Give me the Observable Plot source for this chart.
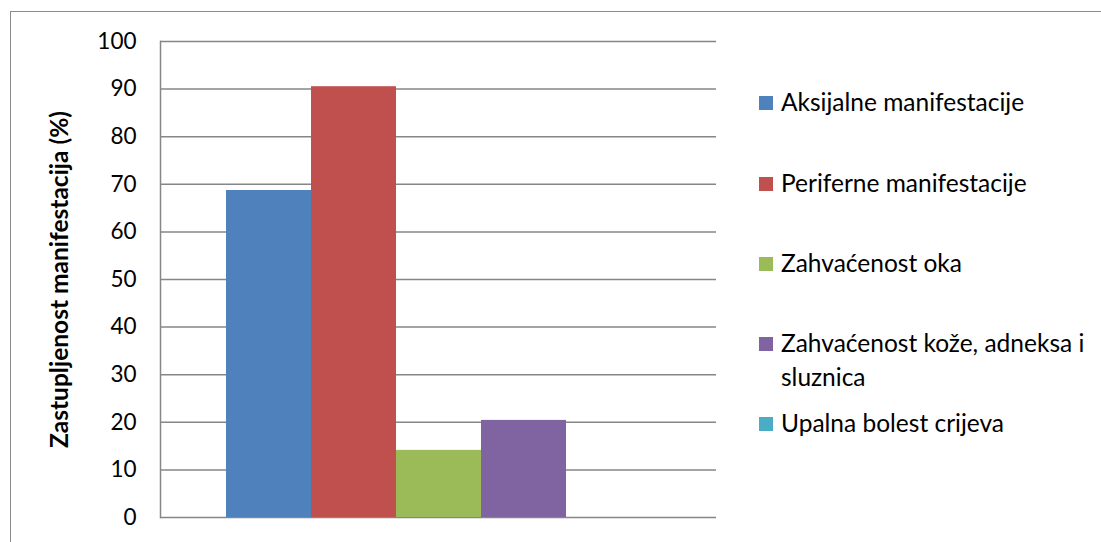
<!DOCTYPE html>
<html><head><meta charset="utf-8">
<script src="https://cdn.jsdelivr.net/npm/d3@7"></script>
<script src="https://cdn.jsdelivr.net/npm/@observablehq/plot@0.6"></script>
<style>
body{margin:0;width:1101px;height:542px;overflow:hidden;background:#fff;font-family:Lato,sans-serif;position:relative;}
#frame{position:absolute;left:10px;top:11px;width:1200px;height:600px;border:1.5px solid #8c8c8c;}
#chart{position:absolute;left:0;top:0;}
#legend{position:absolute;left:759px;top:0;}
.item{position:absolute;left:0;display:flex;align-items:flex-start;font-size:24.5px;line-height:34px;width:335px;color:#000;}
.sw{width:14px;height:14px;margin-right:8px;margin-top:11px;flex:none;}
g[aria-label="y-axis label"] text{font-weight:bold;font-size:24.5px;}
</style></head>
<body>
<div id="frame"></div>
<div id="chart"></div>
<div id="legend"></div>
<script>
const series = ["Aksijalne manifestacije","Periferne manifestacije","Zahvaćenost oka","Zahvaćenost kože, adneksa i sluznica","Upalna bolest crijeva"];
const values = [68.7, 90.5, 14.1, 20.4, 0];
const colors = ["#4F81BD","#C0504D","#9BBB59","#8064A2","#4BACC6"];
const yTicks = [0,10,20,30,40,50,60,70,80,90,100];
const yLabel = "Zastupljenost manifestacija (%)";

const data = series.map((s,i)=>({series:s, value:values[i]}));

const chart = Plot.plot({
  width:1101, height:542,
  marginLeft:160, marginRight:385, marginTop:41, marginBottom:25,
  style:{fontFamily:"Lato, sans-serif", fontSize:"22px", color:"#000", background:"transparent", overflow:"visible"},
  x:{type:"band", domain:series, paddingInner:0, paddingOuter:0.75, axis:null},
  y:{domain:[0,100]},
  color:{domain:series, range:colors},
  marks:[
    Plot.gridY(yTicks,{stroke:"#868686", strokeOpacity:1, strokeWidth:1.5}),
    Plot.barY(data,{x:"series", y:"value", fill:"series", inset:0}),
    Plot.frame({anchor:"left", stroke:"#868686", strokeWidth:1.5}),
    Plot.axisY({ticks:yTicks, tickSize:0, tickPadding:24, fontSize:22.5, label:yLabel, labelAnchor:"center", labelArrow:"none", labelOffset:110})
  ]
});
document.getElementById("chart").appendChild(chart);

const tops = [85,166,246,326,406];
const legend = document.getElementById("legend");
series.forEach((s,i)=>{
  const it = document.createElement("div");
  it.className="item";
  it.style.top = tops[i]+"px";
  const sw = document.createElement("div");
  sw.className="sw"; sw.style.background = colors[i];
  const tx = document.createElement("div");
  tx.textContent = s;
  it.appendChild(sw); it.appendChild(tx);
  legend.appendChild(it);
});
</script>
</body></html>
